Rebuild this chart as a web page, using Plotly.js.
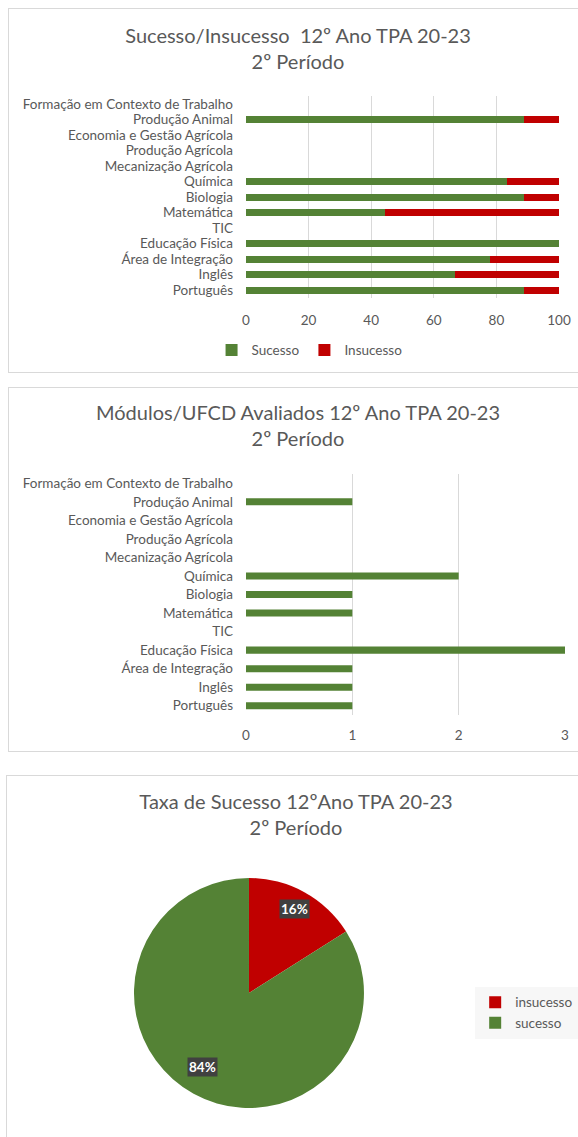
<!DOCTYPE html>
<html>
<head>
<meta charset="utf-8">
<script src="https://cdn.plot.ly/plotly-3.0.1.min.js"></script>
<style>
  body { margin: 0; background: #fff; width: 578px; height: 1137px; overflow: hidden; position: relative; }
  .box { position: absolute; border: 1px solid #D9D9D9; background: #fff; }
</style>
</head>
<body>
<div id="sucessoPlot" class="box" style="left:8px; top:8px; width:578px; height:363px;"></div>
<div id="modulosPlot" class="box" style="left:8px; top:387px; width:578px; height:363px;"></div>
<div id="taxaPlot" class="box" style="left:6px; top:775px; width:578px; height:370px;"></div>
<script>
// categories from top to bottom, as in the picture
const disciplinas = [
    'Formação em Contexto de Trabalho', 'Produção Animal', 'Economia e Gestão Agrícola',
    'Produção Agrícola', 'Mecanização Agrícola', 'Química', 'Biologia', 'Matemática',
    'TIC', 'Educação Física', 'Área de Integração', 'Inglês', 'Português'
];
const sucesso   = [null, 88.9, null, null, null, 83.3, 88.9, 44.4, null, 100, 77.8, 66.7, 88.9];
const insucesso = [null, 11.1, null, null, null, 16.7, 11.1, 55.6, null, 0, 22.2, 33.3, 11.1];
const modulosAvaliados = [null, 1, null, null, null, 2, 1, 1, null, 3, 1, 1, 1];
const xTicksSucesso = [0, 20, 40, 60, 80, 100];
const xTicksModulos = [0, 1, 2, 3];
const taxaLabels = ['insucesso', 'sucesso'];
const taxaValues = [16, 84];

const GREEN = '#548235';
const RED = '#C00000';
const TEXT = '#595959';
const GRID = '#D9D9D9';
const FONT = 'Lato, "Open Sans", sans-serif';
const config = { staticPlot: true, displayModeBar: false };

function titleObj(text, y) {
    return {
        text: text,
        font: { family: FONT, size: 20, color: TEXT },
        x: 0.5, xref: 'container', xanchor: 'center',
        y: y, yref: 'container', yanchor: 'top'
    };
}

function catAxis() {
    return {
        autorange: 'reversed', type: 'category', tickmode: 'array', tickvals: disciplinas,
        showgrid: false, ticks: '', ticklabelstandoff: 12, fixedrange: true
    };
}

// ---- chart 1: Sucesso / Insucesso ----
const trSucesso = {
    y: disciplinas, x: sucesso, type: 'bar', orientation: 'h',
    name: 'Sucesso', marker: { color: GREEN }
};
const trInsucesso = {
    y: disciplinas, x: insucesso, type: 'bar', orientation: 'h',
    name: 'Insucesso', marker: { color: RED }
};

Plotly.newPlot('sucessoPlot', [trSucesso, trInsucesso], {
    width: 578, height: 363,
    title: titleObj('Sucesso/Insucesso  12º Ano TPA 20-23<br>2º Período', 0.905),
    barmode: 'stack',
    bargap: 0.55,
    font: { family: FONT, size: 13.5, color: TEXT },
    xaxis: {
        range: [0, 100], tickvals: xTicksSucesso, showgrid: true, gridcolor: GRID,
        zeroline: false, showline: false, ticks: '', ticklabelstandoff: 12,
        fixedrange: true
    },
    yaxis: catAxis(),
    showlegend: true,
    legend: {
        orientation: 'h', traceorder: 'normal',
        x: 0.52, xref: 'container', xanchor: 'center',
        y: 0.06, yref: 'container', yanchor: 'middle',
        font: { family: FONT, size: 13.5, color: TEXT }, itemwidth: 30
    },
    margin: { l: 237, r: 28, t: 87, b: 74 },
    paper_bgcolor: '#fff', plot_bgcolor: '#fff'
}, config);

// ---- chart 2: Módulos/UFCD avaliados ----
const trModulos = {
    y: disciplinas, x: modulosAvaliados, type: 'bar', orientation: 'h',
    name: 'Módulos', marker: { color: GREEN }
};

Plotly.newPlot('modulosPlot', [trModulos], {
    width: 578, height: 363,
    title: titleObj('Módulos/UFCD Avaliados 12º Ano TPA 20-23<br>2º Período', 0.912),
    bargap: 0.62,
    font: { family: FONT, size: 13.5, color: TEXT },
    xaxis: {
        range: [0, 3], tickvals: xTicksModulos, showgrid: true, gridcolor: GRID,
        zeroline: false, showline: false, ticks: '', ticklabelstandoff: 10,
        fixedrange: true
    },
    yaxis: catAxis(),
    showlegend: false,
    margin: { l: 237, r: 22, t: 86, b: 36 },
    paper_bgcolor: '#fff', plot_bgcolor: '#fff'
}, config);

// ---- chart 3: Taxa de Sucesso (pie) ----
const pieDomain = { x: [0.2197, 0.6176], y: [0.1027, 0.7243] };
const total = taxaValues.reduce((a, b) => a + b, 0);
const cx = (pieDomain.x[0] + pieDomain.x[1]) / 2;
const cy = (pieDomain.y[0] + pieDomain.y[1]) / 2;
const rx = (pieDomain.x[1] - pieDomain.x[0]) / 2;
const ry = (pieDomain.y[1] - pieDomain.y[0]) / 2;
let cum = 0;
const pieLabels = taxaValues.map(v => {
    const a = (cum + v / 2) / total * 2 * Math.PI;
    cum += v;
    return {
        xref: 'paper', yref: 'paper', showarrow: false,
        x: cx + 0.83 * rx * Math.sin(a), y: cy + 0.83 * ry * Math.cos(a),
        text: '<b>' + Math.round(v / total * 100) + '%</b>',
        font: { family: FONT, size: 13.5, color: '#fff' },
        bgcolor: '#404040', borderpad: 1
    };
});

Plotly.newPlot('taxaPlot', [{
    type: 'pie', labels: taxaLabels, values: taxaValues,
    marker: { colors: [RED, GREEN], line: { width: 0 } },
    sort: false, direction: 'clockwise', rotation: 0,
    textinfo: 'none', domain: pieDomain
}], {
    width: 578, height: 370,
    title: titleObj('Taxa de Sucesso 12ºAno TPA 20-23<br>2º Período', 0.911),
    font: { family: FONT, size: 13.5, color: TEXT },
    annotations: pieLabels,
    showlegend: true,
    legend: {
        x: 0.81, xanchor: 'left', y: 0.43, yanchor: 'top',
        bgcolor: '#F7F7F7', itemwidth: 30,
        font: { family: FONT, size: 13.5, color: TEXT }
    },
    margin: { l: 0, r: 0, t: 0, b: 0 },
    paper_bgcolor: '#fff'
}, config);
</script>
</body>
</html>
